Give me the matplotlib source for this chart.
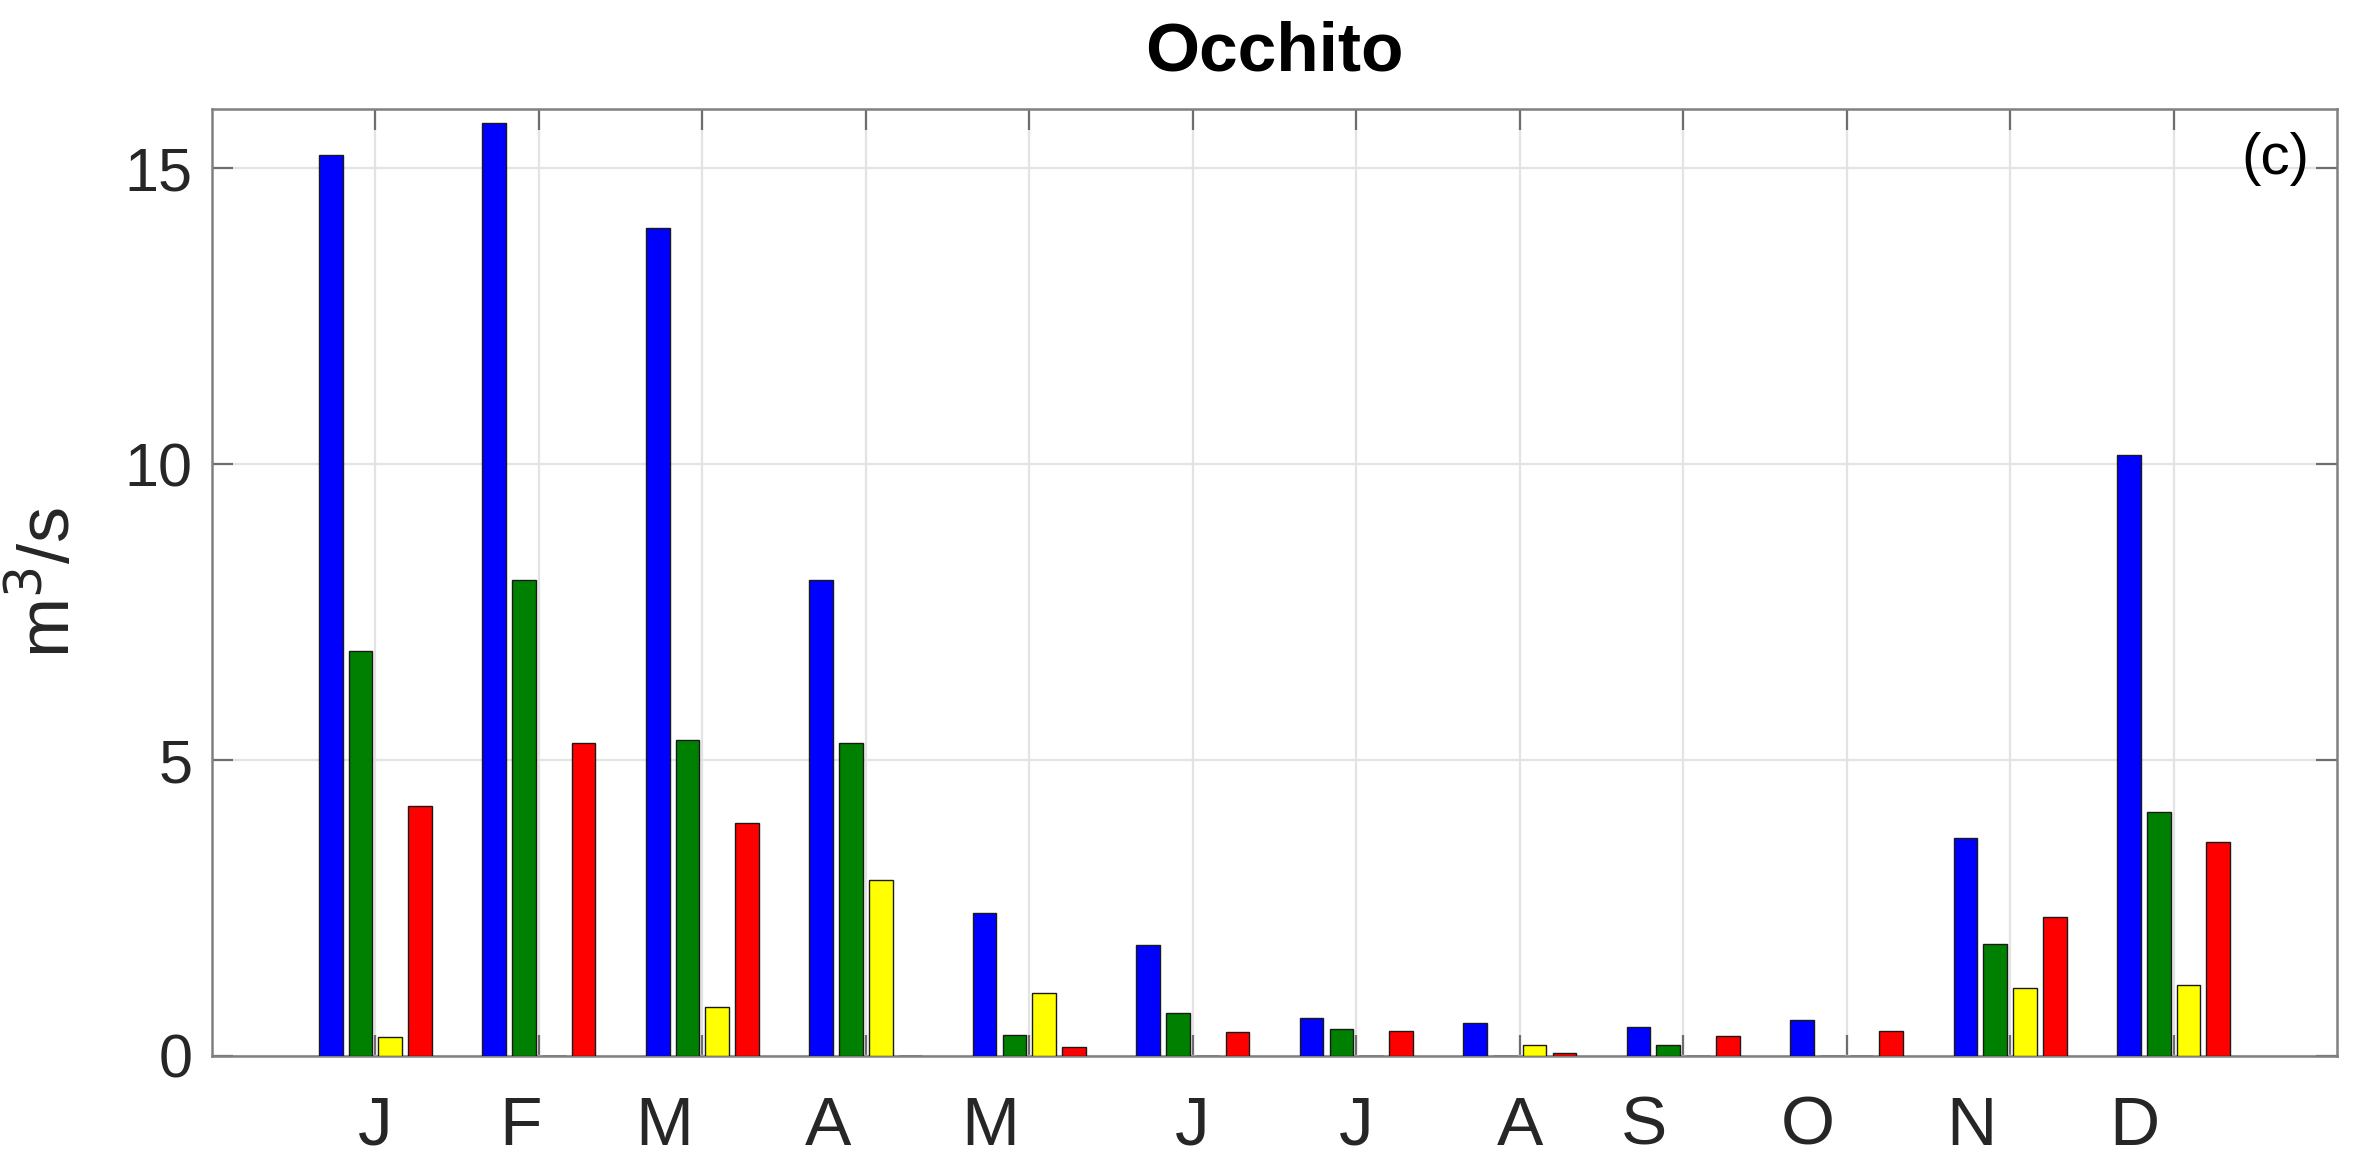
import matplotlib
matplotlib.use("Agg")
import matplotlib.pyplot as plt
import numpy as np

plt.rcParams['font.family'] = ['Liberation Sans', 'DejaVu Sans']

# monthly mean discharge, four series per month
months = ["J", "F", "M", "A", "M", "J", "J", "A", "S", "O", "N", "D"]
blue = [15.23, 15.77, 13.99, 8.05, 2.41, 1.88, 0.64, 0.55, 0.49, 0.60, 3.69, 10.15]
green = [6.84, 8.05, 5.34, 5.28, 0.36, 0.73, 0.46, 0.0, 0.18, 0.0, 1.89, 4.12]
yellow = [0.32, 0.0, 0.82, 2.98, 1.06, 0.0, 0.0, 0.18, 0.0, 0.0, 1.14, 1.20]
red = [4.22, 5.28, 3.93, 0.0, 0.15, 0.40, 0.42, 0.05, 0.34, 0.42, 2.34, 3.61]
# where the month letters sit along x (as placed in the original)
label_x = [1.0, 1.89, 2.77, 3.77, 4.76, 6.0, 7.0, 8.0, 8.76, 9.76, 10.76, 11.76]

series = [blue, green, yellow, red]
colors = ["#0000ff", "#008000", "#ffff00", "#ff0000"]

fig = plt.figure(figsize=(11.9, 5.86), dpi=200)
ax = fig.add_axes([0.089, 0.099, 0.893, 0.808])

x = np.arange(1, 13)
step = 0.182
w = 0.145
for k, (vals, c) in enumerate(zip(series, colors)):
    off = (k - 1.5) * step
    ax.bar(x + off, vals, width=w, color=c, edgecolor="#1a1a1a", linewidth=0.5, zorder=3)

ax.set_xlim(0, 13)
ax.set_ylim(0, 16)
ax.set_yticks([0, 5, 10, 15])
# month letters as major labels (no tick mark), month slots as minor ticks + grid
ax.xaxis.remove_overlapping_locs = False
ax.set_xticks(label_x)
ax.set_xticklabels(months)
ax.set_xticks(x, minor=True)

ax.grid(True, axis="y", which="major", color="#e3e3e3", linewidth=0.8, zorder=0)
ax.grid(True, axis="x", which="minor", color="#e3e3e3", linewidth=0.8, zorder=0)
ax.set_axisbelow(True)
ax.tick_params(axis="y", which="major", direction="in", length=7.5, width=0.8,
               color="#6e6e6e", right=True, labelsize=22, labelcolor="#262626", pad=7)
ax.tick_params(axis="x", which="minor", direction="in", length=7.5, width=0.8,
               color="#6e6e6e", top=True)
ax.tick_params(axis="x", which="major", length=0, labelsize=25, labelcolor="#262626", pad=14)
for s in ax.spines.values():
    s.set_color("#808080")
    s.set_linewidth(0.9)

ax.set_ylabel("m$^3$/s", fontsize=26, color="#262626", labelpad=14)
ax.set_title("Occhito", fontsize=25, fontweight="bold", pad=14)
ax.text(0.987, 0.947, "(c)", transform=ax.transAxes, ha="right", va="center", fontsize=21)

fig.savefig("out.png", dpi=200)
